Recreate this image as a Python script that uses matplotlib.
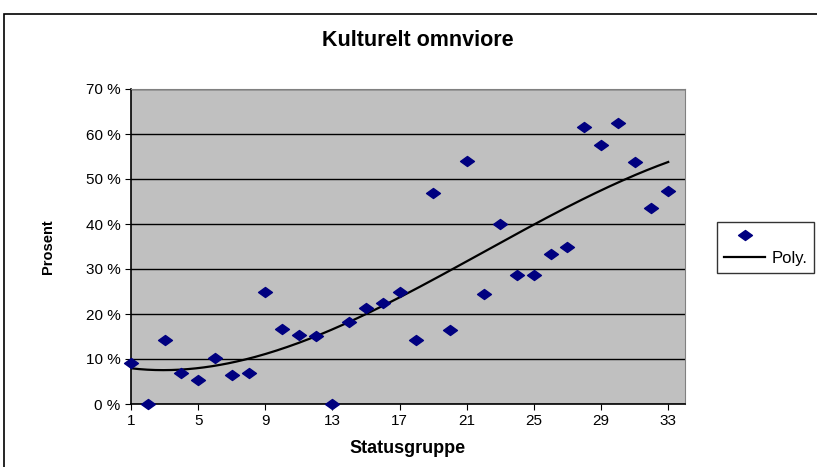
import numpy as np
import matplotlib.pyplot as plt
from matplotlib.path import Path
from matplotlib.patches import Rectangle

plt.rcParams['font.family'] = ['Liberation Sans', 'DejaVu Sans']

# statusgrupper 1..33 and share (percent) of culturally omnivorous
grupper = np.arange(1, 34)
prosent = [9.2, 0.0, 14.2, 6.8, 5.3, 10.2, 6.5, 7.0, 25.0, 16.6,
           15.3, 15.1, 0.0, 18.2, 21.3, 22.4, 25.0, 14.2, 47.0, 16.4,
           53.9, 24.5, 39.9, 28.7, 28.7, 33.3, 34.8, 61.6, 57.6, 62.5,
           53.7, 43.6, 47.3]
yticks = [0, 10, 20, 30, 40, 50, 60, 70]
xticks = [1, 5, 9, 13, 17, 21, 25, 29, 33]

# polynomial trendline like in excel
coef = np.polyfit(grupper, prosent, 3)
xs = np.linspace(1, 33, 200)
trend = np.polyval(coef, xs)

diamond = Path([(-1, 0), (0, 0.72), (1, 0), (0, -0.72), (-1, 0)],
               [Path.MOVETO, Path.LINETO, Path.LINETO, Path.LINETO, Path.CLOSEPOLY])

fig = plt.figure(figsize=(8.17, 4.67), dpi=100)
ax = fig.add_axes([131/817, 1-404/467, (685-131)/817, (404-89)/467])
ax.set_facecolor('#c0c0c0')

ax.plot(grupper, prosent, linestyle='none', marker=diamond, markersize=10,
        color='#000080', label=' ', clip_on=False, zorder=3)
ax.plot(xs, trend, color='black', lw=1.6, label='Poly.', zorder=2)

ax.set_xlim(1, 34)
ax.set_ylim(0, 70)
ax.set_xticks(xticks)
ax.set_yticks(yticks)
ax.set_yticklabels([f'{v} %' for v in yticks])
ax.yaxis.grid(True, color='black', lw=1)
ax.set_axisbelow(True)
ax.tick_params(direction='out', length=4, labelsize=11, color='black')
for s in ['top', 'right']:
    ax.spines[s].set_color('#808080')
for s in ['left', 'bottom']:
    ax.spines[s].set_color('black')
    ax.spines[s].set_linewidth(1.2)

ax.set_xlabel('Statusgruppe', fontsize=13, fontweight='bold', labelpad=8)
ax.set_ylabel('Prosent', fontsize=10.5, fontweight='bold', labelpad=22)
fig.text(418/817, 1-40/467, 'Kulturelt omnviore', fontsize=15.5,
         fontweight='bold', ha='center', va='center')

# outer chart frame (runs off the right and bottom edge)
fig.patches.append(Rectangle((4/817, -0.1), 1.0, 1-14/467+0.1,
                             transform=fig.transFigure, fill=False,
                             edgecolor='black', lw=1.2))

leg = fig.legend(loc='upper left', bbox_to_anchor=(717/817, 1-222/467),
                 fontsize=12, frameon=True, fancybox=False, edgecolor='black',
                 handlelength=2.5, handletextpad=0.35, borderpad=0.4,
                 labelspacing=0.45, borderaxespad=0)
leg.get_frame().set_linewidth(1)

fig.savefig('out.png', dpi=100)
